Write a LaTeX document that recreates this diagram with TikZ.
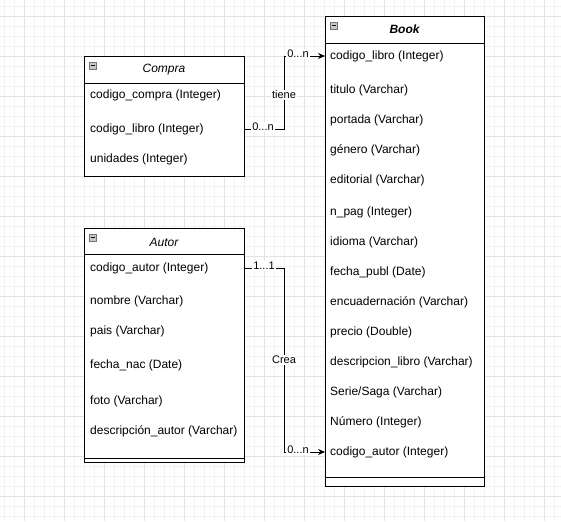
\documentclass[tikz,border=0pt]{standalone}
\usepackage{fontspec}
\setmainfont{Liberation Sans}
\usetikzlibrary{arrows.meta,positioning,calc}

\begin{document}
\begin{tikzpicture}[x=1pt, y=-1pt,
          gridminor/.style={black!5, line width=0.5pt},
          gridmajor/.style={black!11, line width=0.5pt},
          entity/.style={draw, fill=white, line width=0.8pt, anchor=north west, inner sep=0pt},
          header/.style={font=\fontsize{12}{14}\selectfont\itshape, inner sep=0pt},
          attr/.style={anchor=west, inner sep=0pt, font=\fontsize{12}{14}\selectfont},
          toggle/.style={draw=black!55, fill=black!22, minimum size=7pt, inner sep=0pt, anchor=north west},
          rel/.style={line width=0.8pt, -{Stealth[length=7pt,width=6pt]}},
          card/.style={fill=white, inner sep=1pt, font=\fontsize{11}{13}\selectfont}
        ]
          \useasboundingbox (0,0) rectangle (561,521);

          % Raster
          \foreach \x in {4,14,...,554} \draw[gridminor] (\x,0) -- (\x,521);
          \foreach \y in {6,16,...,516} \draw[gridminor] (0,\y) -- (561,\y);
          \foreach \x in {24,64,...,544} \draw[gridmajor] (\x,0) -- (\x,521);
          \foreach \y in {16,56,...,496} \draw[gridmajor] (0,\y) -- (561,\y);

          % Compra
          \node[entity, minimum width=160pt, minimum height=120pt] (compra) at (84,56) {};
          \draw[line width=0.8pt] (84,83) -- (244,83);
          \node[toggle] (compra-toggle) at (89,62) {};
          \draw[line width=1pt] ($(compra-toggle.west)+(1.5pt,0)$) -- ($(compra-toggle.east)+(-1.5pt,0)$);
          \node[header] (compra-title) at (164,70) {Compra};
          \node[attr] (compra-codigo) at (90,95) {codigo\_compra (Integer)};
          \node[attr] (compra-libro) at (90,129) {codigo\_libro (Integer)};
          \node[attr] (compra-unidades) at (90,159) {unidades (Integer)};

          % Autor
          \node[entity, minimum width=160pt, minimum height=234pt] (autor) at (84,228) {};
          \draw[line width=0.8pt] (84,254) -- (244,254);
          \draw[line width=0.8pt] (84,458) -- (244,458);
          \node[toggle] (autor-toggle) at (89,234) {};
          \draw[line width=1pt] ($(autor-toggle.west)+(1.5pt,0)$) -- ($(autor-toggle.east)+(-1.5pt,0)$);
          \node[header] (autor-title) at (164,242) {Autor};
          \node[attr] (autor-codigo) at (90,268) {codigo\_autor (Integer)};
          \node[attr] (autor-nombre) at (90,301) {nombre (Varchar)};
          \node[attr] (autor-pais) at (90,331) {pais (Varchar)};
          \node[attr] (autor-fecha) at (90,365) {fecha\_nac (Date)};
          \node[attr] (autor-foto) at (90,401) {foto (Varchar)};
          \node[attr] (autor-desc) at (90,431) {descripción\_autor (Varchar)};

          % Book
          \node[entity, minimum width=159pt, minimum height=470pt] (book) at (325,16) {};
          \draw[line width=0.8pt] (325,43) -- (484,43);
          \draw[line width=0.8pt] (325,477) -- (484,477);
          \node[toggle] (book-toggle) at (330,22) {};
          \draw[line width=1pt] ($(book-toggle.west)+(1.5pt,0)$) -- ($(book-toggle.east)+(-1.5pt,0)$);
          \node[header, font=\fontsize{12}{14}\selectfont\bfseries\itshape] (book-title) at (404.5,29) {Book};
          \node[attr] (book-libro) at (330,56) {codigo\_libro (Integer)};
          \node[attr] (book-titulo) at (330,90) {titulo (Varchar)};
          \node[attr] (book-portada) at (330,120) {portada (Varchar)};
          \node[attr] (book-genero) at (330,150) {género (Varchar)};
          \node[attr] (book-editorial) at (330,180) {editorial (Varchar)};
          \node[attr] (book-npag) at (330,212) {n\_pag (Integer)};
          \node[attr] (book-idioma) at (330,242) {idioma (Varchar)};
          \node[attr] (book-fecha) at (330,272) {fecha\_publ (Date)};
          \node[attr] (book-encuad) at (330,302) {encuadernación (Varchar)};
          \node[attr] (book-precio) at (330,332) {precio (Double)};
          \node[attr] (book-desc) at (330,362) {descripcion\_libro (Varchar)};
          \node[attr] (book-serie) at (330,392) {Serie/Saga (Varchar)};
          \node[attr] (book-numero) at (330,422) {Número (Integer)};
          \node[attr] (book-autor) at (330,452) {codigo\_autor (Integer)};

          % Beziehungen
          \coordinate (bendX) at (284,0);
          \draw[rel] (compra-libro -| compra.east) -- (compra-libro -| bendX)
            -- (book-libro -| bendX) -- (book-libro -| book.west);
          \draw[rel] (autor-codigo -| autor.east) -- (autor-codigo -| bendX)
            -- (book-autor -| bendX) -- (book-autor -| book.west);

          % Kardinalitaeten
          \node[card] (tiene-from) at (263,127) {0...n};
          \node[card] (tiene-label) at (284,95) {tiene};
          \node[card] (tiene-to) at (298,54) {0...n};
          \node[card] (crea-from) at (264,266) {1...1};
          \node[card] (crea-label) at (284,360) {Crea};
          \node[card] (crea-to) at (298,450) {0...n};
        \end{tikzpicture}
\end{document}
